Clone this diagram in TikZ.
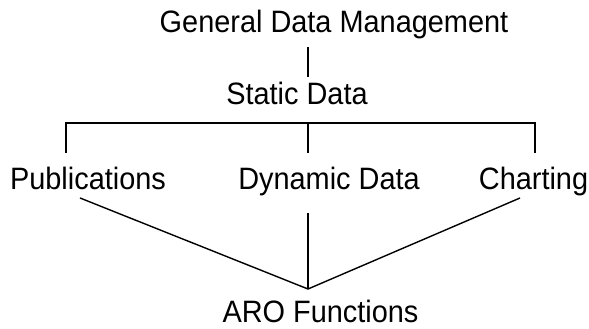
\documentclass[tikz,border=0pt]{standalone}
\usepackage{fontspec}
\setmainfont{Liberation Sans}
\usepackage{graphicx}
\usepackage{tikz}
\newcommand{\tallbox}[1]{\scalebox{1}[1.07]{#1}}

\begin{document}
\begin{tikzpicture}[x=1pt,y=1pt]
			\tikzset{every label node/.style={anchor=base,inner sep=1pt,font=\fontsize{28.9}{34}\selectfont}}
			\tikzset{tree line/.style={line width=1.4pt}}
			\useasboundingbox (0,0) rectangle (589,329);
			% labels
			\node[every label node] (gdm) at (334,296) {\tallbox{General Data Management}};
			\node[every label node] (static) at (297,224) {\tallbox{Static Data}};
			\node[every label node] (pub) at (88,139) {\tallbox{Publications}};
			\node[every label node] (dyn) at (329,139) {\tallbox{Dynamic Data}};
			\node[every label node] (chart) at (533.5,139) {\tallbox{Charting}};
			\node[every label node] (aro) at (320.5,6) {\tallbox{ARO Functions}};
			% fork and join points
			\coordinate (top) at (308,282);
			\coordinate (mid) at (308,252);
			\coordinate (fork) at (308,206);
			\coordinate (legP) at (66,176);
			\coordinate (legD) at (308,176);
			\coordinate (legC) at (535,176);
			\coordinate (endP) at (80,131);
			\coordinate (endD) at (308,116);
			\coordinate (endC) at (520,131);
			\coordinate (join) at (308,40);
			% lines
			\draw[tree line] (top) -- (mid);
			\draw[tree line] (legP) |- (fork) -| (legC);
			\draw[tree line] (fork) -- (legD);
			\draw[tree line] (endP) -- (join) -- (endC);
			\draw[tree line] (endD) -- (join);
		\end{tikzpicture}
\end{document}
